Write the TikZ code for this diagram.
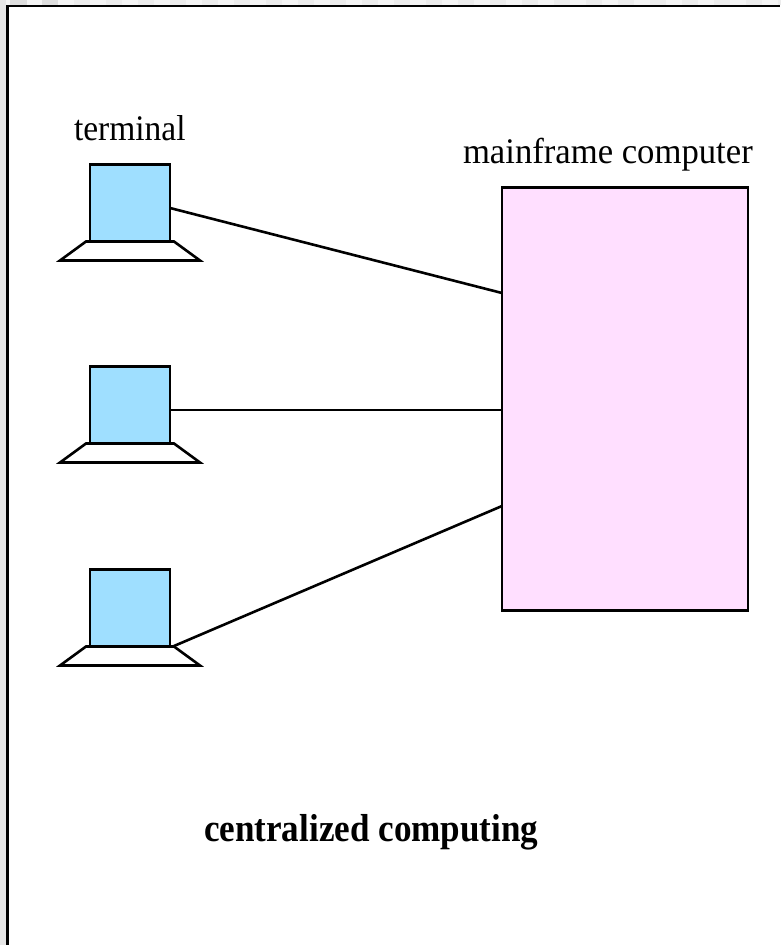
\documentclass[tikz,border=0pt]{standalone}
\usepackage{fontspec}
\setmainfont{Liberation Serif}
\definecolor{screenblue}{HTML}{9FDFFF}
\definecolor{mainpink}{HTML}{FFDFFF}
\definecolor{stripleft}{HTML}{E6E6E6}
\definecolor{stripa}{HTML}{F4F4F4}
\definecolor{stripb}{HTML}{ECECEC}
\definecolor{stripc}{HTML}{DEDEDE}
\tikzset{
  x=1pt,y=-1pt,
  line/.style={draw=black,line width=2.6pt},
  screen/.style={line,fill=screenblue,minimum width=80pt,minimum height=77pt,inner sep=0pt,outer sep=0pt,rectangle},
  mainframe/.style={line,fill=mainpink,minimum width=246pt,minimum height=423pt,inner sep=0pt,outer sep=0pt,rectangle},
  lbl/.style={inner sep=0pt,outer sep=0pt,anchor=base west,font=\fontsize{36}{36}\selectfont},
}
\begin{document}
\begin{tikzpicture}
\useasboundingbox (0,0) rectangle (780,945);
\fill[white] (0,0) rectangle (780,945);
\fill[stripa] (0,0) rectangle (780,5);
\foreach \cx in {74,106,...,778} \fill[stripb] (\cx,0) rectangle (\cx+16,5);
\fill[stripc] (10,0) rectangle (27,5);
\fill[stripc] (42,0) rectangle (58,5);
\fill[stripleft] (0,0) rectangle (6,945);
\draw[line] (7.5,945) -- (7.5,6) -- (780,6);
% terminals
\newcommand{\terminal}[2]{%
  \node[screen] (#1) at (130,#2) {};
  \draw[line,line join=miter,fill=white] (#1.south west) ++(-4,0) -- ++(88,0) -- ++(26,19) -- ++(-140,0) -- cycle;
}
\terminal{t1}{203}
\terminal{t2}{405}
\terminal{t3}{608}
\node[mainframe] (m) at (625,399) {};
\coordinate (m1) at (502,293);
\coordinate (m2) at (502,410);
\coordinate (m3) at (502,506);
\coordinate (a1) at (170,208);
\coordinate (a2) at (170,410);
\coordinate (a3) at (174,646);
\draw[line] (a1) -- (m1);
\draw[line] (a2) -- (m2);
\draw[line] (a3) -- (m3);
\node[lbl] (lt) at (74,140) {\scalebox{0.93}[1]{terminal}};
\node[lbl] (lm) at (463,163) {\scalebox{0.963}[1]{mainframe computer}};
\node[lbl,font=\fontsize{39}{39}\selectfont\bfseries] (lc) at (204,841) {\scalebox{0.9}[1]{centralized computing}};
\end{tikzpicture}
\end{document}
